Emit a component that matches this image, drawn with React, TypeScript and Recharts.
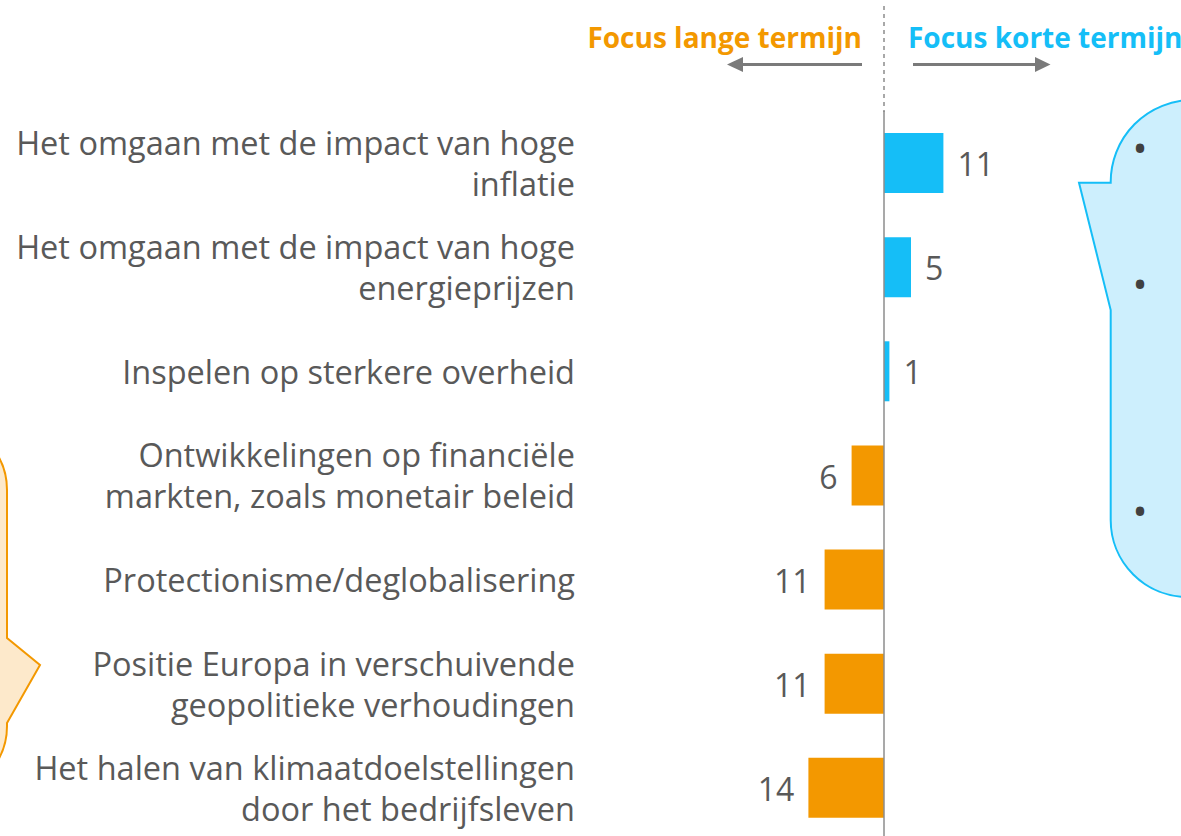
import React from 'react';
import { BarChart, Bar, XAxis, YAxis, LabelList, ReferenceLine } from 'recharts';

// ---------- data ----------
const categories: string[] = [
  'Het omgaan met de impact van hoge\ninflatie',
  'Het omgaan met de impact van hoge\nenergieprijzen',
  'Inspelen op sterkere overheid',
  'Ontwikkelingen op financiële\nmarkten, zoals monetair beleid',
  'Protectionisme/deglobalisering',
  'Positie Europa in verschuivende\ngeopolitieke verhoudingen',
  'Het halen van klimaatdoelstellingen\ndoor het bedrijfsleven',
];
const shortTermFocus: number[] = [11, 5, 1, 0, 0, 0, 0];
const longTermFocus: number[] = [0, 0, 0, 6, 11, 11, 14];
const headerLong = 'Focus lange termijn';
const headerShort = 'Focus korte termijn';
const xDomain: [number, number] = [-50, 40];

const data = categories.map((name, i) => ({
  name,
  short: shortTermFocus[i],
  long: -longTermFocus[i],
}));

// ---------- styles ----------
const W = 1181;
const H = 836;
const CHART_H = 850;
const FONT = '"Open Sans", Lato, sans-serif';
const TEXT = '#595959';
const BLUE = '#15BEF7';
const ORANGE = '#F39800';
const MARGIN = { top: 111, right: 81, bottom: 10, left: 0 };
const YAXIS_W = 614;
const plotLeft = MARGIN.left + YAXIS_W;
const plotWidth = W - MARGIN.right - plotLeft;
const zeroX = plotLeft + ((0 - xDomain[0]) / (xDomain[1] - xDomain[0])) * plotWidth;

const CategoryTick = (props: any) => {
  const { x, y, payload } = props;
  const lines = String(payload.value).split('\n');
  const lh = 41;
  const start = y - ((lines.length - 1) * lh) / 2;
  return (
    <text x={x} y={start} textAnchor="end" fill={TEXT} fontSize={32.5} fontFamily={FONT}>
      {lines.map((l, i) => (
        <tspan key={i} x={x} y={start + i * lh + 1} dy="0.35em">
          {l}
        </tspan>
      ))}
    </text>
  );
};

const makeValueLabel = (side: 'left' | 'right') => (props: any) => {
  const { x, y, width, height, value } = props;
  if (!value) return null;
  const left = Math.min(x, x + width);
  const right = Math.max(x, x + width);
  const cy = y + height / 2 + 2;
  const tx = side === 'right' ? right + 14 : left - 14;
  return (
    <text
      x={tx}
      y={cy}
      dy="0.35em"
      textAnchor={side === 'right' ? 'start' : 'end'}
      fill={TEXT}
      fontSize={32}
      fontFamily={FONT}
    >
      {Math.abs(value)}
    </text>
  );
};

const Decorations = () => (
  <svg
    width={W}
    height={H}
    style={{ position: 'absolute', left: 0, top: 0, pointerEvents: 'none' }}
  >
    {/* left callout (orange) */}
    <path
      d="M -100 422 L -61 422 A 68 68 0 0 1 7 490 L 7 638 L 40 665 L 7 723 L 7 726 A 68 68 0 0 1 -61 794 L -100 794 Z"
      fill="#FDE9CB"
      stroke={ORANGE}
      strokeWidth={2}
    />
    {/* right callout (blue) */}
    <path
      d="M 1240 100 L 1192.7 100 A 82 82 0 0 0 1110.7 182.7 L 1079 182.7 L 1110.7 310 L 1110.7 520 A 77 77 0 0 0 1187.7 597 L 1240 597 Z"
      fill="#CDEFFD"
      stroke={BLUE}
      strokeWidth={2}
    />
    {[149, 285, 512].map((yy) => (
      <text key={yy} x={1140} y={yy} dy="0.35em" textAnchor="middle" fill="#404040" fontSize={40} fontFamily={FONT}>
        •
      </text>
    ))}
    {/* dashed divider */}
    <line x1={zeroX} x2={zeroX} y1={6} y2={112} stroke="#8c8c8c" strokeWidth={1.5} strokeDasharray="4 4" />
    {/* headers */}
    <text x={862} y={48} textAnchor="end" fill={ORANGE} fontSize={28} fontWeight={700} fontFamily={FONT}>
      {headerLong}
    </text>
    <text x={908} y={48} textAnchor="start" fill={BLUE} fontSize={28} fontWeight={700} fontFamily={FONT}>
      {headerShort}
    </text>
    {/* arrows */}
    <line x1={862} x2={740} y1={64.5} y2={64.5} stroke="#7a7a7a" strokeWidth={3} />
    <polygon points="727,64.5 743,57 743,72" fill="#7a7a7a" />
    <line x1={913} x2={1037} y1={64.5} y2={64.5} stroke="#7a7a7a" strokeWidth={3} />
    <polygon points="1050.5,64.5 1035,57 1035,72" fill="#7a7a7a" />
  </svg>
);

export default function App() {
  return (
    <div
      style={{
        position: 'absolute',
        left: 0,
        top: 0,
        width: W,
        height: H,
        overflow: 'hidden',
        background: '#ffffff',
      }}
    >
      <BarChart
        width={W}
        height={CHART_H}
        data={data}
        layout="vertical"
        margin={MARGIN}
        stackOffset="sign"
        barSize={60}
      >
        <XAxis type="number" domain={xDomain} hide allowDataOverflow />
        <YAxis
          type="category"
          dataKey="name"
          width={YAXIS_W}
          axisLine={false}
          tickLine={false}
          tickSize={0}
          tickMargin={39}
          interval={0}
          tick={<CategoryTick />}
        />
        <Bar dataKey="short" stackId="a" fill={BLUE} isAnimationActive={false}>
          <LabelList dataKey="short" content={makeValueLabel('right')} />
        </Bar>
        <Bar dataKey="long" stackId="a" fill={ORANGE} isAnimationActive={false}>
          <LabelList dataKey="long" content={makeValueLabel('left')} />
        </Bar>
        <ReferenceLine x={0} stroke="#8c8c8c" strokeWidth={1.5} ifOverflow="visible" />
      </BarChart>
      <Decorations />
    </div>
  );
}
